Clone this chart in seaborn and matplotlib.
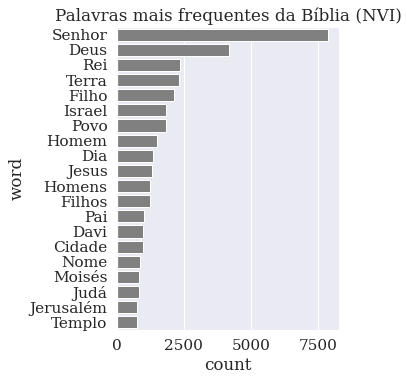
import matplotlib
matplotlib.use("Agg")
import matplotlib.pyplot as plt
import seaborn as sns
import pandas as pd

words = ["Senhor", "Deus", "Rei", "Terra", "Filho", "Israel", "Povo", "Homem", "Dia", "Jesus",
         "Homens", "Filhos", "Pai", "Davi", "Cidade", "Nome", "Moisés", "Judá", "Jerusalém", "Templo"]
counts = [7900, 4170, 2345, 2305, 2120, 1825, 1815, 1485, 1335, 1300,
          1225, 1215, 1025, 965, 955, 850, 815, 805, 765, 730]

df = pd.DataFrame({"word": words, "count": counts})

sns.set_theme(style="darkgrid", font_scale=1.4)
plt.rcParams["font.family"] = ["DejaVu Serif"]

fig = plt.figure(figsize=(407/72, 382/72), dpi=72)
ax = fig.add_axes([117/407, 1 - 330/382, (339-117)/407, (330-27)/382])
sns.barplot(data=df, x="count", y="word", color="grey", saturation=1, ax=ax)
ax.set_title("Palavras mais frequentes da Bíblia (NVI)")
fig.savefig("out.png", dpi=72)
